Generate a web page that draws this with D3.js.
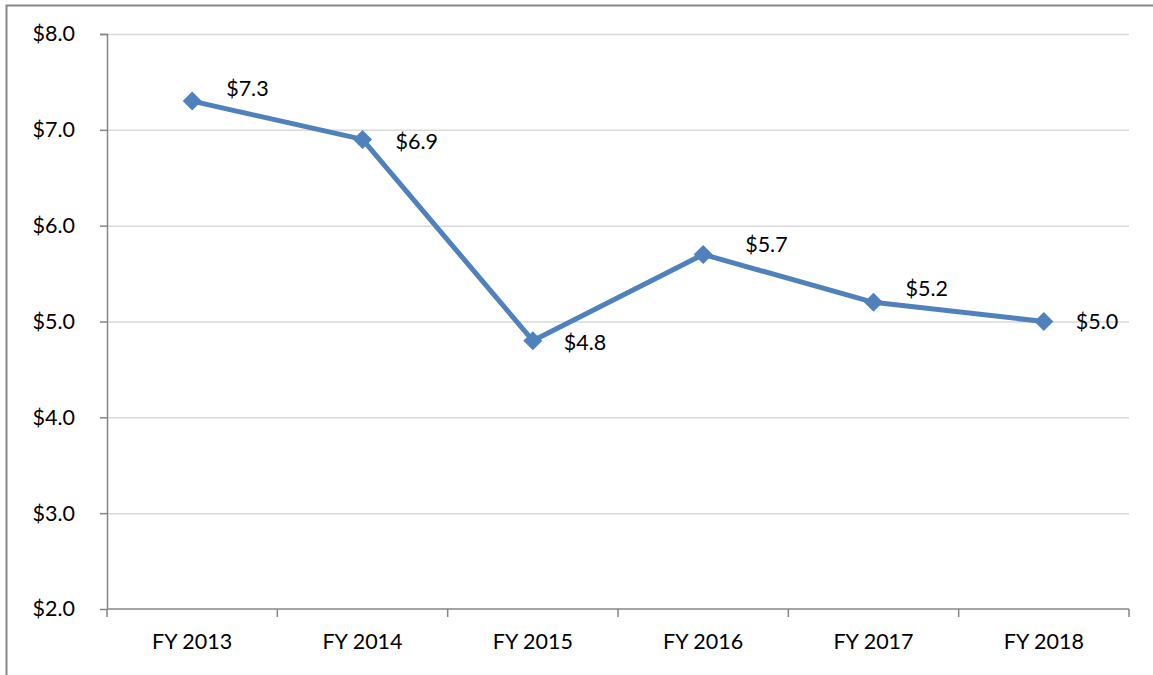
<!DOCTYPE html>
<html>
<head>
<meta charset="utf-8">
<script src="https://cdn.jsdelivr.net/npm/d3@7"></script>
<style>
  html, body { margin: 0; padding: 0; background: #fff; }
  svg { display: block; }
  .tick text { font-family: Lato, 'Open Sans', sans-serif; font-size: 21.5px; fill: #000; }
</style>
</head>
<body>
<svg id="chart" width="1153" height="675"></svg>
<script>
// ── Data ──────────────────────────────────────────────────────────────────────
const years  = ['FY 2013', 'FY 2014', 'FY 2015', 'FY 2016', 'FY 2017', 'FY 2018'];
const values = [7.3, 6.9, 4.8, 5.7, 5.2, 5.0];
const yTicks = [2, 3, 4, 5, 6, 7, 8];

// label nudges (px) relative to each point
const labelDx = [34, 33, 31, 42, 32, 32];
const labelDy = [-13, 2, 2, -10, -14, 0];

// ── Dimensions ────────────────────────────────────────────────────────────────
const W = 1153, H = 675;
const margin = { top: 34, right: 24, bottom: 66, left: 107 };
const w = W - margin.left - margin.right;
const h = H - margin.top - margin.bottom;

const svg = d3.select('#chart');

// outer frame (runs off the right and bottom edge)
svg.append('rect')
  .attr('x', 6.5).attr('y', 5.5)
  .attr('width', W + 10).attr('height', H + 10)
  .attr('fill', 'none')
  .attr('stroke', '#868686')
  .attr('stroke-width', 2);

const g = svg.append('g')
  .attr('transform', `translate(${margin.left},${margin.top})`);

// Scales
const x = d3.scaleBand().domain(years).range([0, w]);
const y = d3.scaleLinear().domain([2, 8]).range([h, 0]);

// Grid
g.append('g')
  .call(d3.axisLeft(y).tickValues(yTicks.slice(1)).tickSize(-w).tickFormat(''))
  .call(a => a.select('.domain').remove())
  .call(a => a.selectAll('line').attr('stroke', '#d9d9d9').attr('stroke-width', 1.5));

// Y axis
g.append('g')
  .call(d3.axisLeft(y).tickValues(yTicks).tickSize(7).tickPadding(25)
    .tickFormat(d => '$' + d3.format('.1f')(d)))
  .call(a => a.select('.domain').attr('d', `M-7,0.5H0.5V${h}`).attr('stroke', '#868686').attr('stroke-width', 1.5))
  .call(a => a.selectAll('line').attr('stroke', '#868686').attr('stroke-width', 1.5));

// X axis – ticks sit on category boundaries
const xAxis = g.append('g')
  .attr('transform', `translate(0,${h})`)
  .call(d3.axisBottom(x).tickSize(0).tickPadding(25));
xAxis.select('.domain').attr('d', `M0,0H${w}`).attr('stroke', '#868686').attr('stroke-width', 1.5);
xAxis.selectAll('.tick text').attr('dy', '0.71em');
xAxis.selectAll('.bound')
  .data(d3.range(years.length + 1))
  .join('line')
  .attr('class', 'bound')
  .attr('x1', i => i * x.bandwidth()).attr('x2', i => i * x.bandwidth())
  .attr('y1', 0).attr('y2', 8)
  .attr('stroke', '#868686').attr('stroke-width', 1.5);

// Line
const cx = (d, i) => x(years[i]) + x.bandwidth() / 2;
g.append('path')
  .datum(values)
  .attr('d', d3.line().x(cx).y(d => y(d)))
  .attr('fill', 'none')
  .attr('stroke', '#4f81bd')
  .attr('stroke-width', 5)
  .attr('stroke-linejoin', 'round');

// Diamond markers
g.selectAll('.pt')
  .data(values)
  .join('path')
  .attr('class', 'pt')
  .attr('transform', (d, i) => `translate(${cx(d, i)},${y(d)})`)
  .attr('d', 'M0,-9.5L9.5,0L0,9.5L-9.5,0Z')
  .attr('fill', '#4f81bd');

// Data labels
g.selectAll('.lbl')
  .data(values)
  .join('text')
  .attr('class', 'lbl')
  .attr('x', (d, i) => cx(d, i) + labelDx[i])
  .attr('y', (d, i) => y(d) + labelDy[i])
  .attr('dy', '0.35em')
  .attr('font-family', "Lato, 'Open Sans', sans-serif")
  .attr('font-size', 21.5)
  .attr('fill', '#000')
  .text(d => '$' + d3.format('.1f')(d));
</script>
</body>
</html>
